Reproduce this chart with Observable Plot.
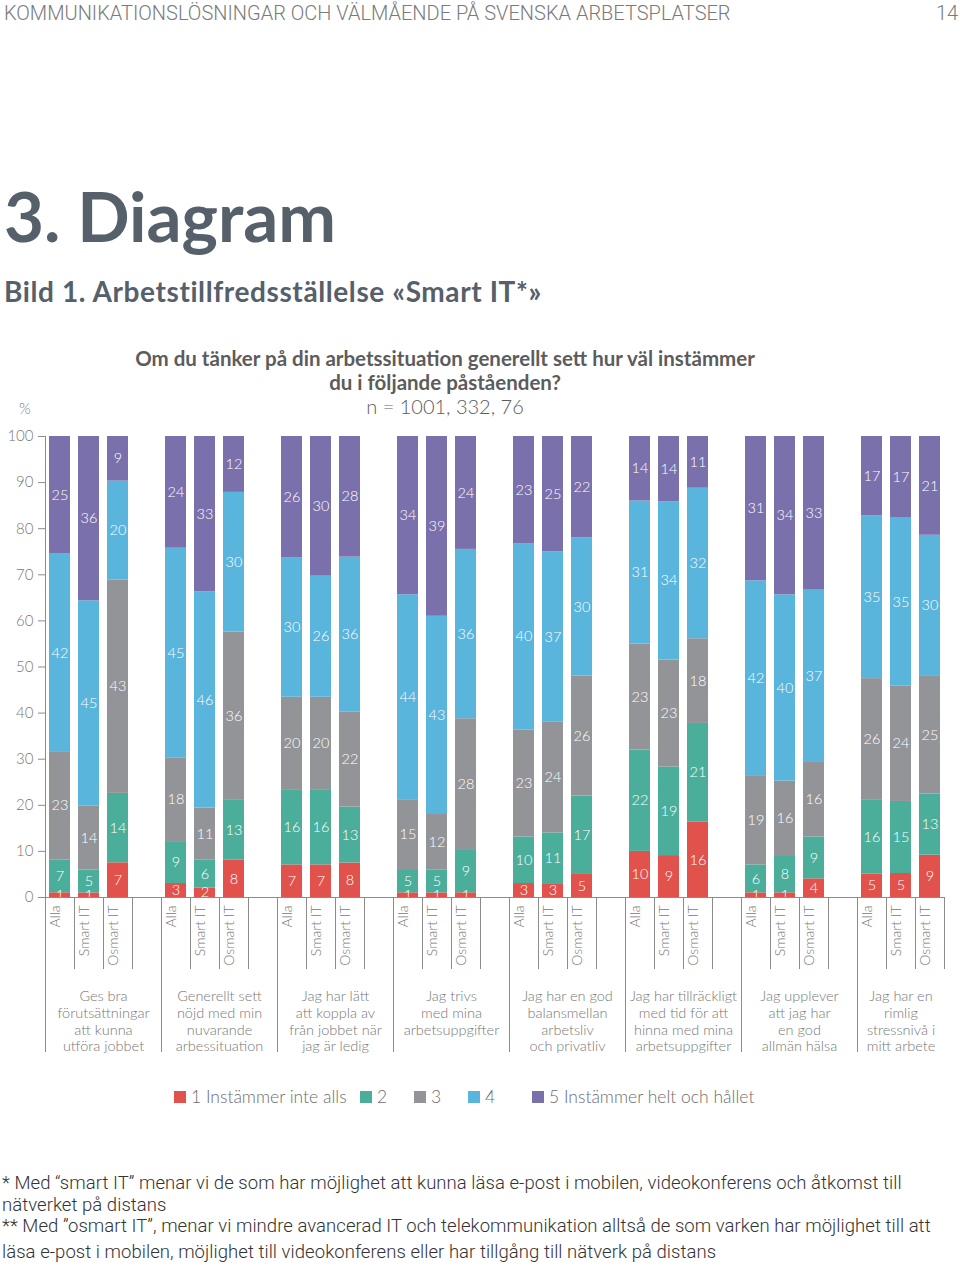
<!DOCTYPE html>
<html><head><meta charset="utf-8">
<script src="https://cdn.jsdelivr.net/npm/d3@7"></script>
<script src="https://cdn.jsdelivr.net/npm/@observablehq/plot@0.6"></script>
<style>
body{margin:0;background:#fff;width:960px;height:1267px;position:relative;overflow:hidden;font-family:Lato,"Open Sans",sans-serif;}
.abs{position:absolute;white-space:nowrap;line-height:1;}
#chart{position:absolute;left:0;top:420px;}
.sw{position:absolute;top:1086px;display:flex;align-items:center;font-size:17.5px;color:#6e6e6e;font-weight:300;}
.sw i{display:inline-block;width:12px;height:12px;margin-right:5px;}
.fn{position:absolute;left:2px;font-size:18.5px;color:#333;font-family:Roboto,sans-serif;font-weight:300;letter-spacing:0.05px;white-space:nowrap;line-height:1;}
</style></head><body>
<div class="abs" style="left:4px;top:3px;font-size:20px;color:#7a7a7a;font-family:Roboto;font-weight:300;">KOMMUNIKATIONSLÖSNINGAR OCH VÄLMÅENDE PÅ SVENSKA ARBETSPLATSER</div>
<div class="abs" style="left:936px;top:3px;font-size:20px;color:#7a7a7a;font-family:Roboto;font-weight:300;">14</div>
<div class="abs" style="left:4px;top:181px;font-size:69px;font-weight:700;color:#56606a;">3. Diagram</div>
<div class="abs" style="left:4px;top:277px;font-size:28px;font-weight:700;color:#56606a;letter-spacing:0.6px;">Bild 1. Arbetstillfredsställelse «Smart IT*»</div>
<div class="abs" style="left:0;width:890px;text-align:center;top:348px;font-size:20.5px;font-weight:700;color:#5c5c5c;">Om du tänker på din arbetssituation generellt sett hur väl instämmer</div>
<div class="abs" style="left:0;width:890px;text-align:center;top:372px;font-size:20.5px;font-weight:700;color:#5c5c5c;">du i följande påståenden?</div>
<div class="abs" style="left:0;width:890px;text-align:center;top:396px;font-size:20px;font-weight:300;color:#5c5c5c;">n = 1001, 332, 76</div>
<div class="abs" style="left:19px;top:401px;font-size:15px;font-weight:300;color:#7a7a7a;">%</div>
<div id="chart"></div>
<div id="legend"></div>
<div class="fn" style="top:1174px;">* Med “smart IT” menar vi de som har möjlighet att kunna läsa e-post i mobilen, videokonferens och åtkomst till</div>
<div class="fn" style="top:1196px;">nätverket på distans</div>
<div class="fn" style="top:1217px;">** Med ”osmart IT”, menar vi mindre avancerad IT och telekommunikation alltså de som varken har möjlighet till att</div>
<div class="fn" style="top:1243px;">läsa e-post i mobilen, möjlighet till videokonferens eller har tillgång till nätverk på distans</div>
<script>
// ---------- data ----------
const groups = [
  "Ges bra\nförutsättningar\natt kunna\nutföra jobbet",
  "Generellt sett\nnöjd med min\nnuvarande\narbessituation",
  "Jag har lätt\natt koppla av\nfrån jobbet när\njag är ledig",
  "Jag trivs\nmed mina\narbetsuppgifter",
  "Jag har en god\nbalansmellan\narbetsliv\noch privatliv",
  "Jag har tillräckligt\nmed tid för att\nhinna med mina\narbetsuppgifter",
  "Jag upplever\natt jag har\nen god\nallmän hälsa",
  "Jag har en\nrimlig\nstressnivå i\nmitt arbete"
];
const respondents = ["Alla", "Smart IT", "Osmart IT"];
const levels = ["1 Instämmer inte alls", "2", "3", "4", "5 Instämmer helt och hållet"];
const colors = ["#e0524b", "#4aae9b", "#939498", "#5ab5dd", "#7a70ab"];
// values per level, 3 bars (Alla, Smart IT, Osmart IT) per statement
const level1 = [1,1,7, 3,2,8, 7,7,8, 1,1,1, 3,3,5, 10,9,16, 1,1,4, 5,5,9];
const level2 = [7,5,14, 9,6,13, 16,16,13, 5,5,9, 10,11,17, 22,19,21, 6,8,9, 16,15,13];
const level3 = [23,14,43, 18,11,36, 20,20,22, 15,12,28, 23,24,26, 23,23,18, 19,16,16, 26,24,25];
const level4 = [42,45,20, 45,46,30, 30,26,36, 44,43,36, 40,37,30, 31,34,32, 42,40,37, 35,35,30];
const level5 = [25,36,9, 24,33,12, 26,30,28, 34,39,24, 23,25,22, 14,14,11, 31,34,33, 17,17,21];
const series = [level1, level2, level3, level4, level5];

// ---------- table for Plot ----------
const cellCount = groups.length * 4 - 1;
const rows = [];
groups.forEach((g, gi) => respondents.forEach((r, ri) => series.forEach((s, li) =>
  rows.push({gi, cell: gi * 4 + ri, who: r, level: levels[li], value: s[gi * 3 + ri]}))));
const bars = rows.filter(d => d.level === levels[0]);
const groupRows = groups.map((label, gi) => ({label, cx: (gi * 4 + Math.min(gi * 4 + 4, cellCount)) / 2}));
const edges = d3.range(0, cellCount + 1);
const groupEdges = edges.filter(e => e % 4 === 0);
const innerEdges = edges.filter(e => e % 4 !== 0);
const axisColor = "#8c8c8c";
const labelColor = "#787878";

const chart = Plot.plot({
  width: 960, height: 640,
  marginTop: 16, marginBottom: 163, marginLeft: 45, marginRight: 16,
  style: {fontFamily: "Lato, sans-serif", fontSize: "15px", background: "transparent", overflow: "visible"},
  x: {domain: [0, cellCount]},
  y: {domain: [0, 1]},
  color: {domain: levels, range: colors},
  marks: [
    Plot.rectY(rows, Plot.stackY({offset: "normalize", x1: "cell", x2: d => d.cell + 1, y: "value", z: "level", fill: "level", insetLeft: 4, insetRight: 4})),
    Plot.text(rows, Plot.stackY({offset: "normalize", x: d => d.cell + 0.5, y: "value", z: "level", text: "value", fill: "white", fontSize: 14.5, fontWeight: 300})),
    Plot.axisY({ticks: d3.range(0, 1.0001, 0.1), tickFormat: d => Math.round(d * 100), tickSize: 7, tickPadding: 5, stroke: axisColor, fill: labelColor, fontSize: 15, fontWeight: 300, label: null}),
    Plot.ruleX([0], {y1: 0, y2: 1, stroke: axisColor}),
    Plot.ruleY([0], {x1: 0, x2: cellCount, stroke: axisColor}),
    Plot.axisX({ticks: innerEdges, tickSize: 72, tickFormat: () => "", stroke: axisColor, label: null}),
    Plot.axisX({ticks: groupEdges, tickSize: 155, tickFormat: () => "", stroke: axisColor, label: null}),
    Plot.text(bars, {x: d => d.cell + 0.5, text: "who", frameAnchor: "bottom", rotate: -90, textAnchor: "end", dy: 8, fill: labelColor, fontSize: 14, fontWeight: 300}),
    Plot.text(groupRows, {x: "cx", text: "label", frameAnchor: "bottom", lineAnchor: "top", dy: 92, lineHeight: 1.15, fill: labelColor, fontSize: 14.5, fontWeight: 300})
  ]
});
document.getElementById("chart").appendChild(chart);

// ---------- legend ----------
const legendLeft = [174, 360, 414, 468, 532];
const legend = document.getElementById("legend");
levels.forEach((l, i) => {
  const d = document.createElement("div");
  d.className = "sw";
  d.style.left = legendLeft[i] + "px";
  d.innerHTML = `<i style="background:${colors[i]}"></i><span>${l}</span>`;
  legend.appendChild(d);
});
</script>
</body></html>
